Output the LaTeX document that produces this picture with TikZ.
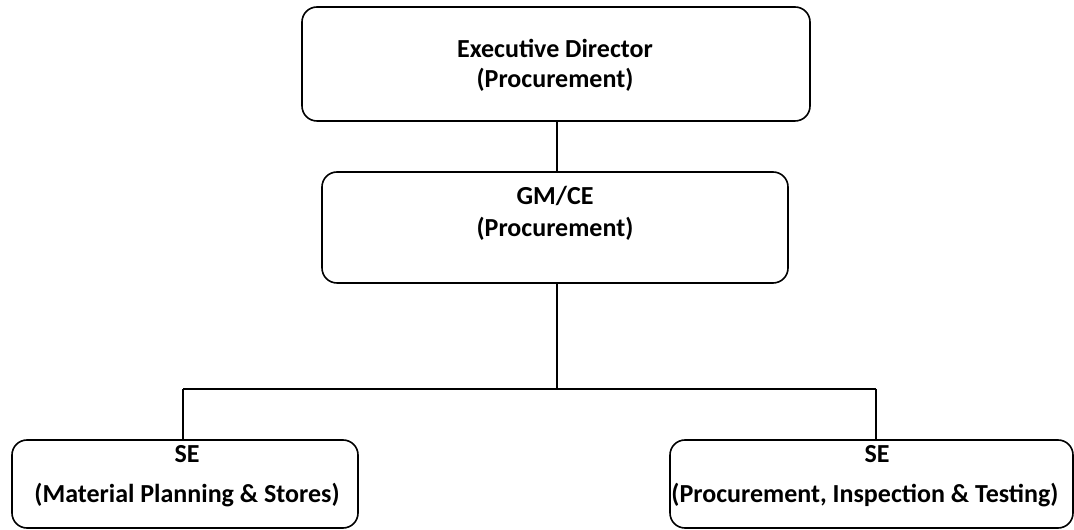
\documentclass[tikz,border=0pt]{standalone}
\usepackage{fontspec}
\setmainfont{Carlito}
\begin{document}
\begin{tikzpicture}[x=1pt,y=1pt,
  orgbox/.style={draw=black, line width=1.6pt, rounded corners=15pt,
    inner sep=0pt, outer sep=0pt, fill=white},
  orgtext/.style={inner sep=0pt, anchor=base, font=\fontsize{26}{30}\selectfont\bfseries},
  link/.style={draw=black, line width=1.3pt}]
\useasboundingbox (0,0) rectangle (1074,530);
\fill[white] (0,0) rectangle (1074,530);

% boxes
\node[orgbox, minimum width=508pt, minimum height=114pt] (ed) at (556,466) {};
\node[orgbox, minimum width=466pt, minimum height=111pt] (gm) at (555,302.5) {};
\node[orgbox, minimum width=346pt, minimum height=88pt] (sel) at (185,46) {};
\node[orgbox, minimum width=403pt, minimum height=88pt] (ser) at (871.5,46) {};

% labels
\node[orgtext] (edt1) at (555,472) {Executive Director};
\node[orgtext] (edt2) at (555,442) {(Procurement)};
\node[orgtext] (gmt1) at (555,325) {GM/CE};
\node[orgtext] (gmt2) at (555,293) {(Procurement)};
\node[orgtext] (selt1) at (187,67) {SE};
\node[orgtext] (selt2) at (187,27) {(Material Planning \& Stores)};
\node[orgtext] (sert1) at (877,67) {SE};
\node[orgtext] (sert2) at (865,27) {(Procurement, Inspection \& Testing)};

% connectors
\coordinate (jn) at (557,141);
\draw[link] (ed.south -| jn) -- (gm.north -| jn);
\draw[link] (gm.south -| jn) -- (jn);
\draw[link] (183,141 |- jn) coordinate (jl) -- (876,141 |- jn) coordinate (jr);
\draw[link] (jl) -- (sel.north -| jl);
\draw[link] (jr) -- (ser.north -| jr);
\end{tikzpicture}
\end{document}
